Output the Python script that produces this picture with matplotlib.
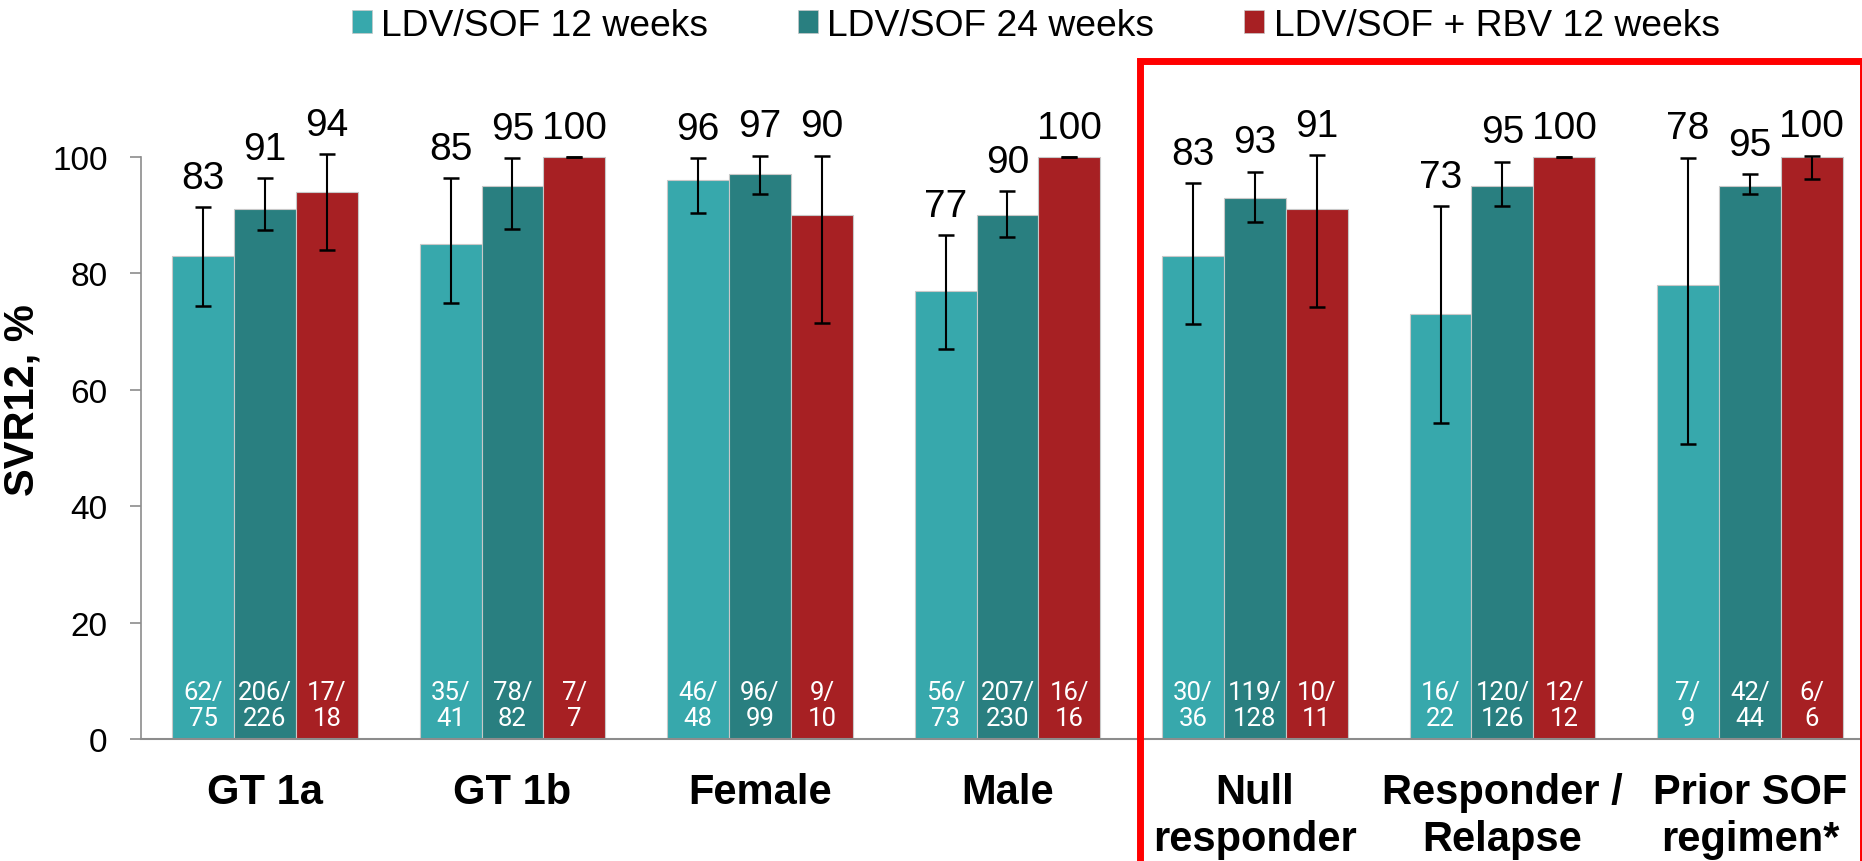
import numpy as np
import matplotlib
matplotlib.use('Agg')
import matplotlib.pyplot as plt
from matplotlib.patches import Patch, Rectangle

plt.rcParams['font.family'] = ['Liberation Sans', 'DejaVu Sans']

categories = ['GT 1a', 'GT 1b', 'Female', 'Male', 'Null\nresponder',
              'Responder /\nRelapse', 'Prior SOF\nregimen*']
series = ['LDV/SOF 12 weeks', 'LDV/SOF 24 weeks', 'LDV/SOF + RBV 12 weeks']

svr_12 = [83, 85, 96, 77, 83, 73, 78]
svr_24 = [91, 95, 97, 90, 93, 95, 95]
svr_rbv = [94, 100, 90, 100, 91, 100, 100]

# 95% CI
lo_12 = [74.4, 74.9, 90.3, 67.0, 71.3, 54.3, 50.7]
hi_12 = [91.4, 96.4, 99.8, 86.6, 95.5, 91.5, 99.9]
lo_24 = [87.5, 87.7, 93.7, 86.3, 88.8, 91.5, 93.7]
hi_24 = [96.4, 99.8, 100.2, 94.1, 97.5, 99.2, 97.0]
lo_rbv = [84.1, 100, 71.4, 100, 74.2, 100, 96.3]
hi_rbv = [100.5, 100, 100.2, 100, 100.3, 100, 100.2]

n_12 = [62, 35, 46, 56, 30, 16, 7]
N_12 = [75, 41, 48, 73, 36, 22, 9]
n_24 = [206, 78, 96, 207, 119, 120, 42]
N_24 = [226, 82, 99, 230, 128, 126, 44]
n_rbv = [17, 7, 9, 16, 10, 12, 6]
N_rbv = [18, 7, 10, 16, 11, 12, 6]

colors = ['#37A8AC', '#297F80', '#A72023']

fig = plt.figure(figsize=(18.62, 8.62), dpi=100)
ax = fig.add_axes([141 / 1862, 1 - 740 / 862, 1 - 141 / 1862, (740 - 70.7) / 862])

x = np.arange(len(categories))
w = 0.25
groups = [(svr_12, lo_12, hi_12, n_12, N_12),
          (svr_24, lo_24, hi_24, n_24, N_24),
          (svr_rbv, lo_rbv, hi_rbv, n_rbv, N_rbv)]

for i, (vals, lo, hi, n, N) in enumerate(groups):
    xs = x + (i - 1) * w
    vals = np.array(vals, dtype=float)
    lo = np.array(lo)
    hi = np.array(hi)
    ax.bar(xs, vals, w, color=colors[i], edgecolor='#C8C8C8', linewidth=0.8,
           label=series[i], zorder=2)
    ax.errorbar(xs, vals, yerr=[vals - lo, hi - vals], fmt='none', ecolor='black',
                elinewidth=1.5, capsize=5.5, capthick=1.8, zorder=3)
    tops = np.maximum(vals, hi)
    for xi, t, v in zip(xs, tops, vals):
        ax.annotate(f'{int(v)}', (xi, t), xytext=(0, 14), textcoords='offset points',
                    ha='center', va='baseline', fontsize=28, color='black')
    for xi, a, b in zip(xs, n, N):
        ax.text(xi, 5.8, f'{a}/\n{b}', ha='center', va='center', fontsize=18.5,
                family=['Roboto', 'Liberation Sans'],
                color='white', linespacing=1.1, zorder=4)

ax.set_xlim(-0.501, 6.453)
ax.set_ylim(0, 115)
ax.set_yticks(range(0, 101, 20))
ax.spines['left'].set_bounds(0, 100)
for s in ['top', 'right']:
    ax.spines[s].set_visible(False)
ax.spines['left'].set_color('#8C8C8C')
ax.spines['bottom'].set_color('#8C8C8C')
ax.spines['left'].set_linewidth(1.2)
ax.spines['bottom'].set_linewidth(1.5)
ax.tick_params(axis='y', length=8, width=1.2, color='#8C8C8C', pad=16, labelsize=24)
ax.set_xticks(x)
ax.set_xticklabels(categories, fontsize=30, fontweight='bold')
ax.tick_params(axis='x', length=0, pad=24)
ax.set_ylabel('SVR12, %', fontsize=30, fontweight='bold')
ax.yaxis.set_label_coords((43 - 141) / (1862 - 141), 58.4 / 115)

handles = [Patch(facecolor=c, edgecolor='#C8C8C8', linewidth=0.5) for c in colors]
fig.legend(handles, series, loc='center', bbox_to_anchor=(1035.5 / 1862, 1 - 26 / 862),
           ncol=3, frameon=False, fontsize=26.8, handlelength=0.55, handleheight=0.55,
           handletextpad=0.25, columnspacing=2.4, borderpad=0, borderaxespad=0)

# red box round the treatment-experienced subgroups
box = Rectangle((1140 / 1862, -0.05), (1862.5 - 1140) / 1862, 1 - 61.5 / 862 + 0.05,
                transform=fig.transFigure, fill=False, edgecolor='#FF0000',
                linewidth=5, zorder=10, clip_on=False)
fig.patches.append(box)

fig.savefig('out.png', dpi=100)
